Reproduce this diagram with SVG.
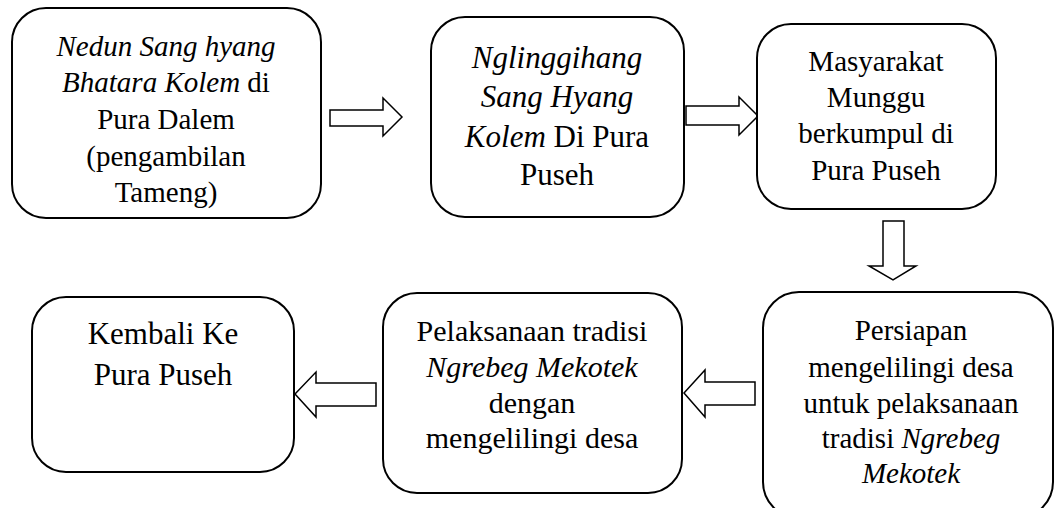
<svg xmlns="http://www.w3.org/2000/svg" width="1055" height="508" viewBox="0 0 1055 508">
<style>
.box{fill:#fff;stroke:#000;stroke-width:2}
.arr{fill:#fff;stroke:#000;stroke-width:1.5;stroke-linejoin:miter}
.t{fill:#000;text-anchor:middle}
.i{font-style:italic}
</style>
<rect width="1055" height="508" fill="#fff"/>
<g id="connectors">
<polygon class="arr" points="330,110 383,110 383,98 402,117 383,136 383,126 330,126"/>
<polygon class="arr" points="686,106 739,106 739,97 758,116 739,135 739,125 686,125"/>
<polygon class="arr" points="883,221 904,221 904,266 916,266 893,280 869,266 883,266"/>
<polygon class="arr" points="755,382 705,382 705,370 684,393 705,417 705,405 755,405"/>
<polygon class="arr" points="376,383 316,383 316,372 295,394 316,417 316,406 376,406"/>
</g>
<g id="node1">
<rect class="box" x="12" y="8" width="309" height="210" rx="34"/>
<text class="t" font-family="Liberation Serif, DejaVu Serif, serif" font-size="29" x="166"><tspan class="i" x="166" y="56">Nedun Sang hyang</tspan><tspan x="166" y="92"><tspan class="i">Bhatara Kolem</tspan> di</tspan><tspan x="166" y="129">Pura Dalem</tspan><tspan x="166" y="166">(pengambilan</tspan><tspan x="166" y="202">Tameng)</tspan></text>
</g>
<g id="node2">
<rect class="box" x="431" y="17" width="253" height="200" rx="34"/>
<text class="t" font-family="Liberation Serif, DejaVu Serif, serif" font-size="31" x="557"><tspan class="i" x="557" y="68">Nglinggihang</tspan><tspan class="i" x="557" y="107">Sang Hyang</tspan><tspan x="557" y="147"><tspan class="i">Kolem</tspan> Di Pura</tspan><tspan x="557" y="185">Puseh</tspan></text>
</g>
<g id="node3">
<rect class="box" x="757" y="24" width="239" height="185" rx="34"/>
<text class="t" font-family="Liberation Serif, DejaVu Serif, serif" font-size="29" x="876"><tspan x="876" y="71">Masyarakat</tspan><tspan x="876" y="107">Munggu</tspan><tspan x="876" y="143">berkumpul di</tspan><tspan x="876" y="180">Pura Puseh</tspan></text>
</g>
<g id="node4">
<rect class="box" x="32" y="297" width="262" height="175" rx="34"/>
<text class="t" font-family="Liberation Serif, DejaVu Serif, serif" font-size="31" x="163"><tspan x="163" y="344">Kembali Ke</tspan><tspan x="163" y="385">Pura Puseh</tspan></text>
</g>
<g id="node5">
<rect class="box" x="383" y="293" width="299" height="200" rx="34"/>
<text class="t" font-family="Liberation Serif, DejaVu Serif, serif" font-size="30" x="532"><tspan x="532" y="341">Pelaksanaan tradisi</tspan><tspan class="i" x="532" y="377">Ngrebeg Mekotek</tspan><tspan x="532" y="413">dengan</tspan><tspan x="532" y="448">mengelilingi desa</tspan></text>
</g>
<g id="node6">
<rect class="box" x="763" y="292" width="290" height="226" rx="36"/>
<text class="t" font-family="Liberation Serif, DejaVu Serif, serif" font-size="29" x="911"><tspan x="911" y="340">Persiapan</tspan><tspan x="911" y="377">mengelilingi desa</tspan><tspan x="911" y="413">untuk pelaksanaan</tspan><tspan x="911" y="448">tradisi <tspan class="i">Ngrebeg</tspan></tspan><tspan class="i" x="911" y="483">Mekotek</tspan></text>
</g>
</svg>
